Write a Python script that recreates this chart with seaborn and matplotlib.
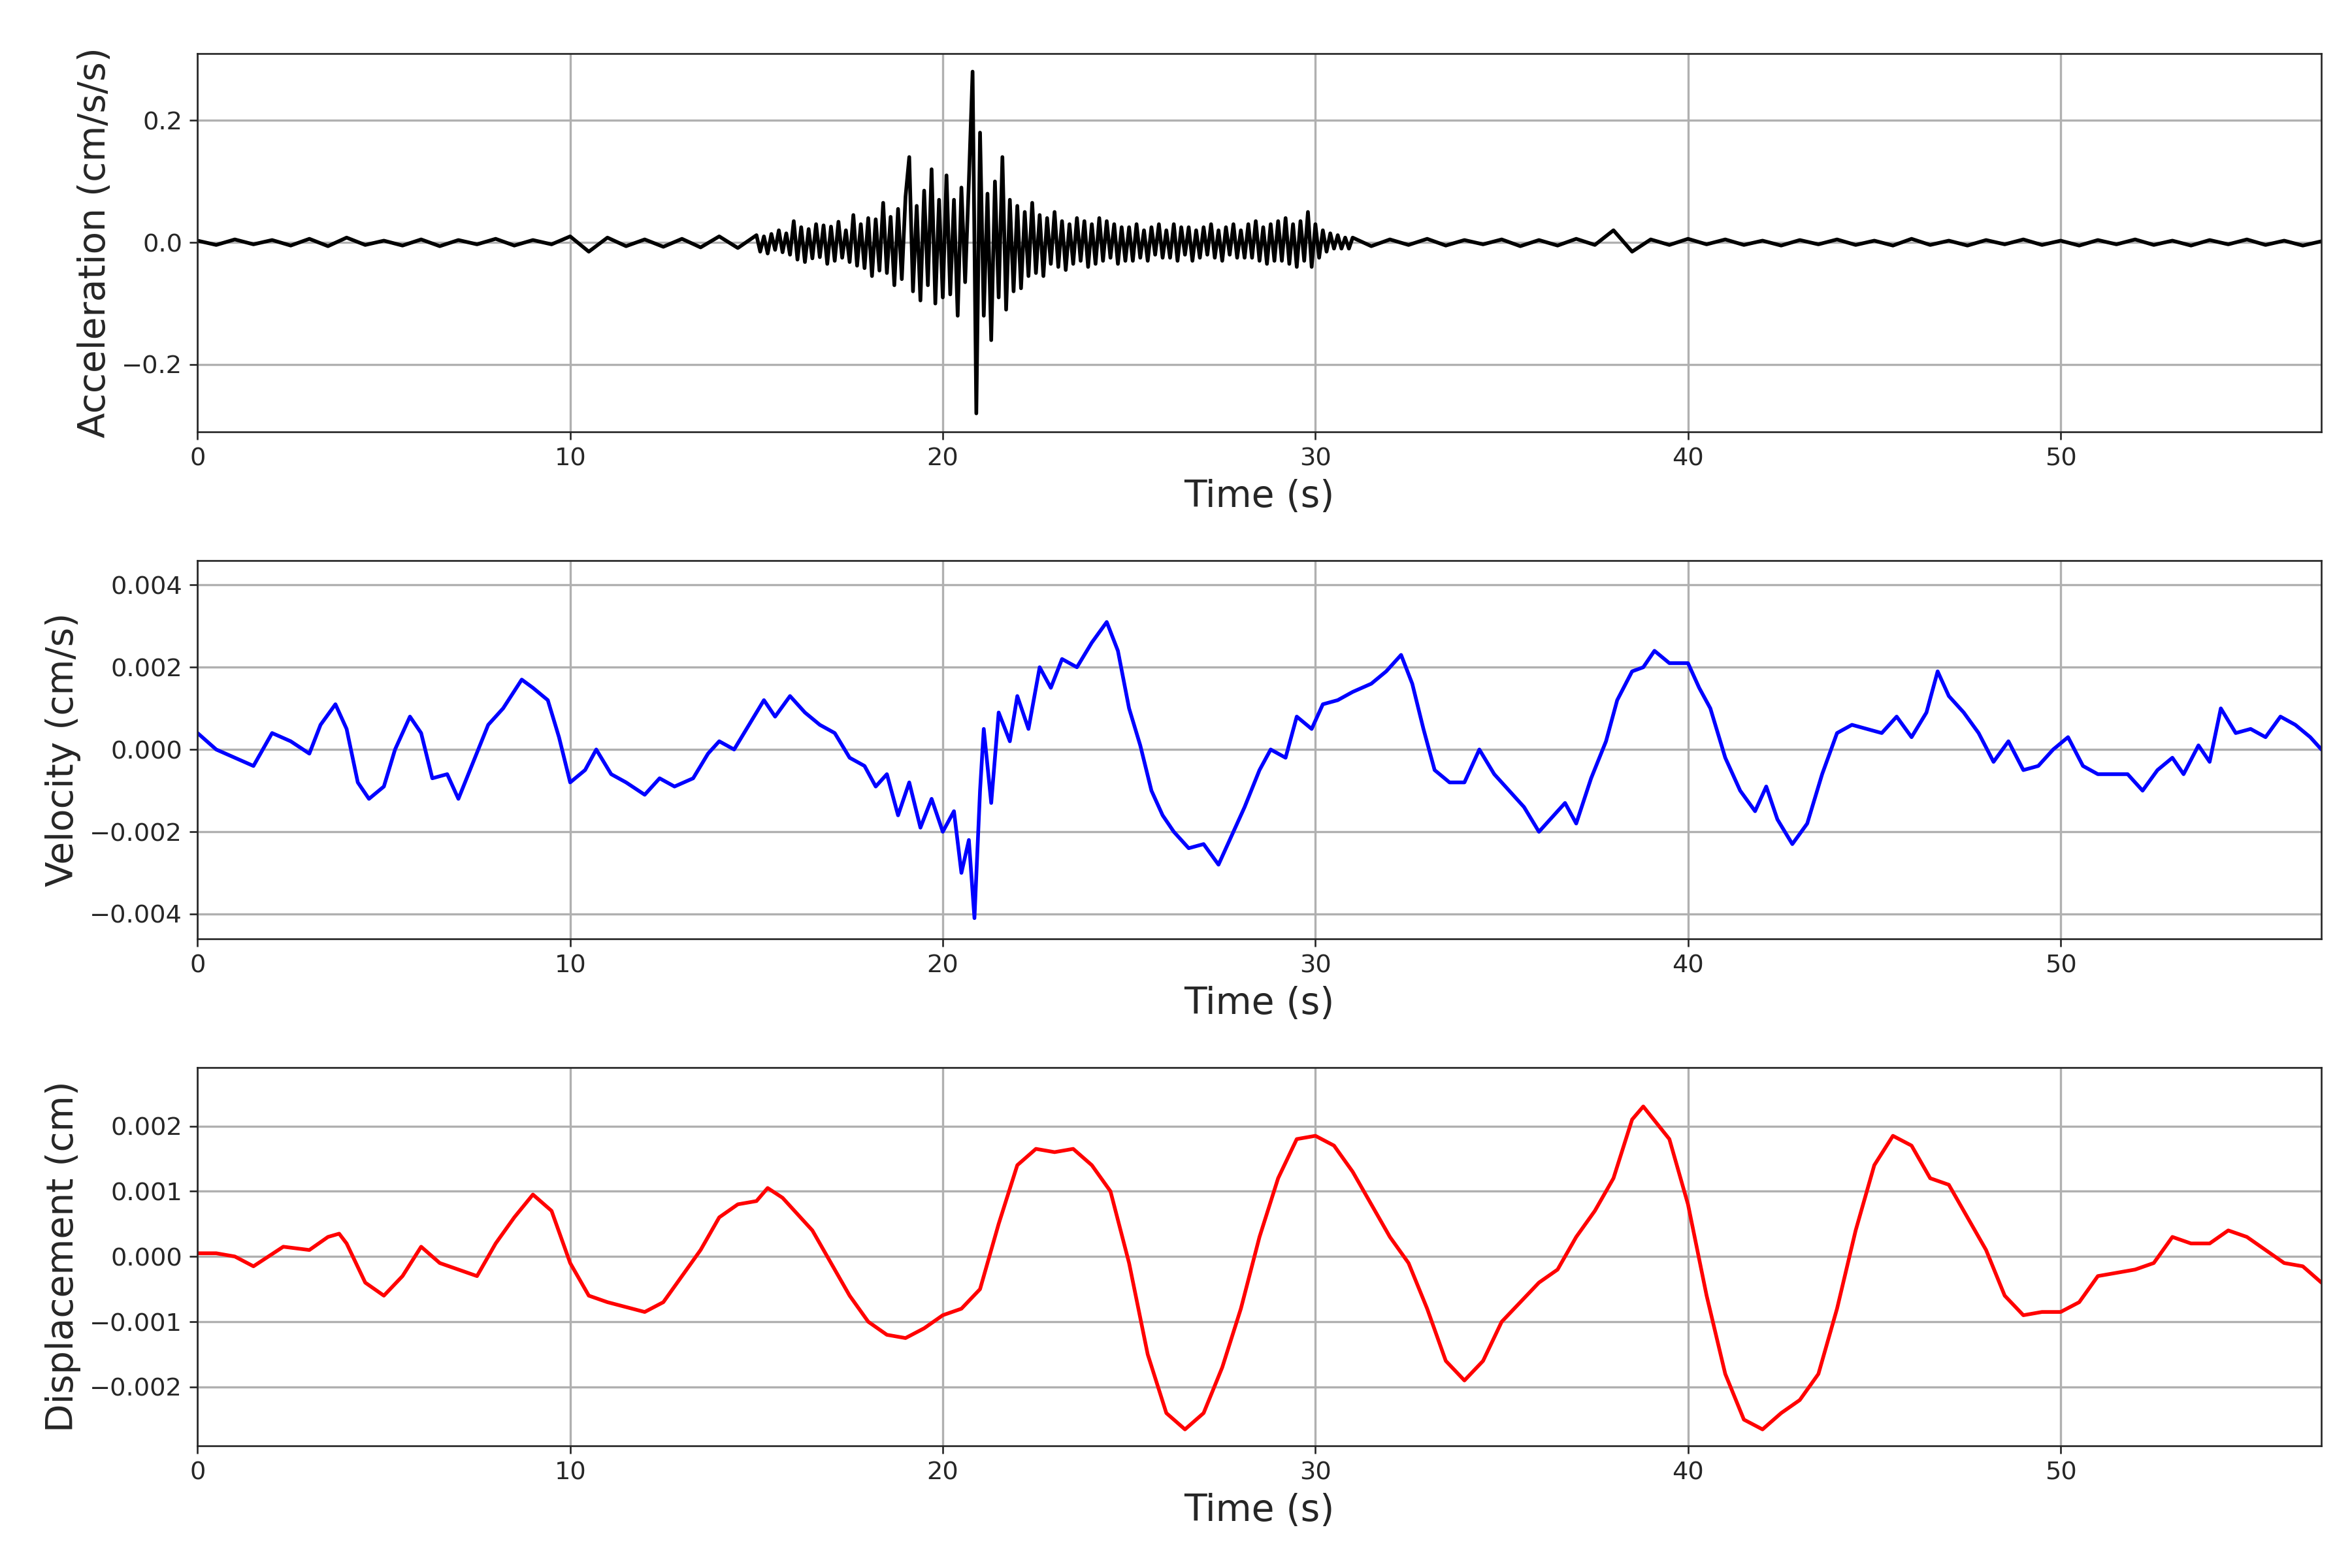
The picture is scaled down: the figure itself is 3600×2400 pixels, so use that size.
import numpy as np
import pandas as pd
import matplotlib
matplotlib.use("Agg")
import matplotlib.pyplot as plt
import seaborn as sns

# acceleration (x0.01 cm/s/s) in three segments
acc_quiet_a = [0.3, -0.4, 0.5, -0.3, 0.4, -0.5, 0.6, -0.6, 0.8, -0.4, 0.3, -0.5, 0.5, -0.6, 0.4,
               -0.3, 0.6, -0.5, 0.4, -0.3, 1.0, -1.5, 0.8, -0.6, 0.5, -0.7, 0.6, -0.8, 1.0, -0.9]
acc_strong = [
    1.2, -1.5, 1.0, -1.8, 1.4, -1.2, 2.0, -1.6, 1.5, -2.0,
    3.5, -2.8, 2.5, -3.2, 2.2, -2.6, 3.0, -2.4, 2.8, -3.5,
    2.6, -3.0, 3.4, -2.5, 2.0, -3.2, 4.5, -3.8, 3.0, -4.2,
    4.0, -5.5, 3.8, -4.6, 6.5, -5.0, 4.2, -7.0, 5.5, -6.0,
    7.5, 14.0, -8.0, 6.0, -9.5, 8.5, -7.0, 12.0, -10.0, 7.0,
    -9.0, 11.0, -8.5, 7.0, -12.0, 9.0, -6.5, 10.0, 28.0, -28.0,
    18.0, -12.0, 8.0, -16.0, 10.0, -9.0, 14.0, -11.0, 7.0, -8.0,
    6.0, -7.5, 5.0, -5.5, 6.5, -5.0, 4.5, -5.5, 4.0, -3.5,
    5.0, -4.0, 3.5, -4.5, 3.0, -3.5, 4.0, -3.0, 3.5, -4.0,
    3.0, -3.5, 4.0, -3.0, 3.5, -2.5, 3.0, -3.5, 2.5, -3.0,
    2.5, -3.0, 3.0, -2.5, 2.0, -3.0, 2.5, -2.0, 3.0, -2.5,
    2.0, -2.5, 3.0, -3.0, 2.5, -2.0, 2.5, -3.0, 2.0, -2.5,
    2.5, -2.0, 3.0, -2.5, 2.0, -3.0, 2.5, -2.0, 3.0, -2.5,
    2.0, -2.5, 3.0, -2.5, 3.5, -3.0, 2.5, -3.5, 3.0, -3.0,
    3.5, -3.0, 4.0, -3.5, 3.0, -4.0, 3.5, -3.0, 5.0, -4.0,
    3.0, -2.5, 2.0, -1.5, 1.5, -1.0, 1.2, -1.0, 0.8, -1.0]
acc_quiet_c = [0.8, -0.6, 0.5, -0.4, 0.6, -0.5, 0.4, -0.3, 0.5, -0.6, 0.4, -0.5, 0.6, -0.4,
               2.0, -1.5, 0.5, -0.4, 0.6, -0.3, 0.5, -0.4, 0.3, -0.5, 0.4, -0.3, 0.5, -0.4,
               0.3, -0.5, 0.6, -0.4, 0.3, -0.5, 0.4, -0.3, 0.5, -0.4, 0.3, -0.5, 0.4, -0.3,
               0.5, -0.4, 0.3, -0.5, 0.4, -0.3, 0.5, -0.4, 0.3, -0.5, 0.2]

vel_t = [0, 0.5, 1, 1.5, 2, 2.5, 3, 3.3, 3.7, 4, 4.3, 4.6, 5, 5.3, 5.7, 6, 6.3, 6.7, 7, 7.4, 7.8,
         8.2, 8.7, 9, 9.4, 9.7, 10, 10.4, 10.7, 11.1, 11.5, 12, 12.4, 12.8, 13.3, 13.7, 14, 14.4,
         14.8, 15.2, 15.5, 15.9, 16.3, 16.7, 17.1, 17.5, 17.9, 18.2, 18.5, 18.8, 19.1, 19.4, 19.7,
         20, 20.3, 20.5, 20.7, 20.85, 21.0, 21.1, 21.3, 21.5, 21.8, 22.0, 22.3, 22.6, 22.9, 23.2,
         23.6, 24.0, 24.4, 24.7, 25.0, 25.3, 25.6, 25.9, 26.2, 26.6, 27.0, 27.4, 27.8, 28.1, 28.5,
         28.8, 29.2, 29.5, 29.9, 30.2, 30.6, 31, 31.5, 31.9, 32.3, 32.6, 32.9, 33.2, 33.6, 34,
         34.4, 34.8, 35.2, 35.6, 36, 36.3, 36.7, 37, 37.4, 37.8, 38.1, 38.5, 38.8, 39.1, 39.5, 40,
         40.3, 40.6, 41, 41.4, 41.8, 42.1, 42.4, 42.8, 43.2, 43.6, 44, 44.4, 44.8, 45.2, 45.6, 46,
         46.4, 46.7, 47.0, 47.4, 47.8, 48.2, 48.6, 49, 49.4, 49.8, 50.2, 50.6, 51, 51.4, 51.8,
         52.2, 52.6, 53, 53.3, 53.7, 54, 54.3, 54.7, 55.1, 55.5, 55.9, 56.3, 56.7, 57]
vel_v = [0.4, 0.0, -0.2, -0.4, 0.4, 0.2, -0.1, 0.6, 1.1, 0.5, -0.8, -1.2, -0.9, 0.0, 0.8, 0.4,
         -0.7, -0.6, -1.2, -0.3, 0.6, 1.0, 1.7, 1.5, 1.2, 0.3, -0.8, -0.5, 0.0, -0.6, -0.8, -1.1,
         -0.7, -0.9, -0.7, -0.1, 0.2, 0.0, 0.6, 1.2, 0.8, 1.3, 0.9, 0.6, 0.4, -0.2, -0.4, -0.9,
         -0.6, -1.6, -0.8, -1.9, -1.2, -2.0, -1.5, -3.0, -2.2, -4.1, -1.0, 0.5, -1.3, 0.9, 0.2,
         1.3, 0.5, 2.0, 1.5, 2.2, 2.0, 2.6, 3.1, 2.4, 1.0, 0.1, -1.0, -1.6, -2.0, -2.4, -2.3,
         -2.8, -2.0, -1.4, -0.5, 0.0, -0.2, 0.8, 0.5, 1.1, 1.2, 1.4, 1.6, 1.9, 2.3, 1.6, 0.5,
         -0.5, -0.8, -0.8, 0.0, -0.6, -1.0, -1.4, -2.0, -1.7, -1.3, -1.8, -0.7, 0.2, 1.2, 1.9,
         2.0, 2.4, 2.1, 2.1, 1.5, 1.0, -0.2, -1.0, -1.5, -0.9, -1.7, -2.3, -1.8, -0.6, 0.4, 0.6,
         0.5, 0.4, 0.8, 0.3, 0.9, 1.9, 1.3, 0.9, 0.4, -0.3, 0.2, -0.5, -0.4, 0.0, 0.3, -0.4,
         -0.6, -0.6, -0.6, -1.0, -0.5, -0.2, -0.6, 0.1, -0.3, 1.0, 0.4, 0.5, 0.3, 0.8, 0.6, 0.3,
         0.0]

disp_t = [0, 0.5, 1, 1.5, 2.3, 3, 3.5, 3.8, 4, 4.5, 5, 5.5, 6, 6.5, 7, 7.5, 8, 8.5, 9, 9.5,
          10, 10.5, 11, 12, 12.5, 13, 13.5, 14, 14.5, 15, 15.3, 15.7, 16.5, 17, 17.5, 18, 18.5,
          19, 19.5, 20, 20.5, 21, 21.5, 22, 22.5, 23, 23.5, 24, 24.5, 25, 25.5, 26, 26.5, 27,
          27.5, 28, 28.5, 29, 29.5, 30, 30.5, 31, 31.5, 32, 32.5, 33, 33.5, 34, 34.5, 35, 35.5,
          36, 36.5, 37, 37.5, 38, 38.5, 38.8, 39.5, 40, 40.5, 41, 41.5, 42, 42.5, 43, 43.5, 44,
          44.5, 45, 45.5, 46, 46.5, 47, 47.5, 48, 48.5, 49, 49.5, 50, 50.5, 51, 51.5, 52, 52.5,
          53, 53.5, 54, 54.5, 55, 55.5, 56, 56.5, 57]
disp_v = [0.05, 0.05, 0.0, -0.15, 0.15, 0.1, 0.3, 0.35, 0.2, -0.4, -0.6, -0.3, 0.15, -0.1,
          -0.2, -0.3, 0.2, 0.6, 0.95, 0.7, -0.1, -0.6, -0.7, -0.85, -0.7, -0.3, 0.1, 0.6, 0.8,
          0.85, 1.05, 0.9, 0.4, -0.1, -0.6, -1.0, -1.2, -1.25, -1.1, -0.9, -0.8, -0.5, 0.5, 1.4,
          1.65, 1.6, 1.65, 1.4, 1.0, -0.1, -1.5, -2.4, -2.65, -2.4, -1.7, -0.8, 0.3, 1.2, 1.8,
          1.85, 1.7, 1.3, 0.8, 0.3, -0.1, -0.8, -1.6, -1.9, -1.6, -1.0, -0.7, -0.4, -0.2, 0.3,
          0.7, 1.2, 2.1, 2.3, 1.8, 0.8, -0.6, -1.8, -2.5, -2.65, -2.4, -2.2, -1.8, -0.8, 0.4,
          1.4, 1.85, 1.7, 1.2, 1.1, 0.6, 0.1, -0.6, -0.9, -0.85, -0.85, -0.7, -0.3, -0.25,
          -0.2, -0.1, 0.3, 0.2, 0.2, 0.4, 0.3, 0.1, -0.1, -0.15, -0.4]

acc_t = np.concatenate([np.arange(len(acc_quiet_a)) * 0.5,
                        15 + np.arange(len(acc_strong)) * 0.1,
                        31 + np.arange(len(acc_quiet_c)) * 0.5])
acc_v = np.concatenate([acc_quiet_a, acc_strong, acc_quiet_c]) * 0.01

sns.set_style("ticks")
plt.rcParams["font.family"] = ["DejaVu Sans"]

fig, axes = plt.subplots(3, 1, figsize=(15, 10))
panels = [
    (acc_t, acc_v, "black", "Acceleration (cm/s/s)", (-0.31, 0.31), [-0.2, 0.0, 0.2], "{:.1f}"),
    (np.array(vel_t), np.array(vel_v) * 1e-3, "blue", "Velocity (cm/s)", (-0.0046, 0.0046),
     [-0.004, -0.002, 0.0, 0.002, 0.004], "{:.3f}"),
    (np.array(disp_t), np.array(disp_v) * 1e-3, "red", "Displacement (cm)", (-0.0029, 0.0029),
     [-0.002, -0.001, 0.0, 0.001, 0.002], "{:.3f}"),
]
for ax, (t, v, c, lab, ylim, yt, fmt) in zip(axes, panels):
    df = pd.DataFrame({"t": t, "v": v})
    sns.lineplot(data=df, x="t", y="v", color=c, linewidth=1.7, ax=ax, estimator=None, sort=False)
    ax.set_xlim(0, 57)
    ax.set_ylim(*ylim)
    ax.set_yticks(yt)
    ax.set_yticklabels([fmt.format(y).replace("-", "\u2212") for y in yt])
    ax.set_xticks([0, 10, 20, 30, 40, 50])
    ax.grid(True, color="#b0b0b0", linewidth=1)
    ax.set_axisbelow(True)
    ax.set_xlabel("Time (s)", fontsize=17)
    ax.set_ylabel(lab, fontsize=17)
    ax.tick_params(labelsize=11.5)

fig.subplots_adjust(left=0.084, right=0.987, top=0.966, bottom=0.078, hspace=0.34)
plt.savefig("out.png", dpi=240)
